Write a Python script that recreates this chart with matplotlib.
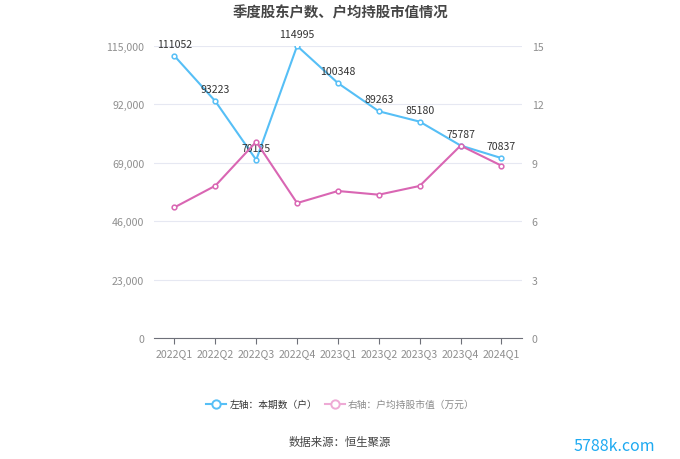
import matplotlib.pyplot as plt
import numpy as np

plt.rcParams['font.family'] = ['Noto Sans CJK SC', 'DejaVu Sans']

#------------------Data------------------
quarters = ['2022Q1', '2022Q2', '2022Q3', '2022Q4', '2023Q1', '2023Q2', '2023Q3', '2023Q4', '2024Q1']
holders = [111052, 93223, 70125, 114995, 100348, 89263, 85180, 75787, 70837]
avg_value = [6.71, 7.82, 10.08, 6.93, 7.55, 7.36, 7.81, 9.88, 8.85]
left_ticks = [0, 23000, 46000, 69000, 92000, 115000]
right_ticks = [0, 3, 6, 9, 12, 15]

blue = '#56bff6'
pink = '#d966b3'
label_gray = '#8f8f8f'

#------------------Figure------------------
fig = plt.figure(figsize=(6.8, 4.6), dpi=100)
ax = fig.add_axes([0.2265, 0.263, 0.541, 0.635])
ax2 = ax.twinx()

x = np.arange(len(quarters))

ax.plot(x, holders, color=blue, lw=1.5, marker='o', ms=3.4, mfc='white', mec=blue, mew=1.1, zorder=3)
ax2.plot(x, avg_value, color=pink, lw=1.5, marker='o', ms=3.4, mfc='white', mec=pink, mew=1.1, zorder=3)

for xi, v in zip(x, holders):
    ax.annotate(str(v), (xi, v), xytext=(0, 5), textcoords='offset points',
                ha='center', va='bottom', fontsize=7.6, color='#333333', zorder=5)

ax.set_xlim(-0.5, len(quarters) - 0.5)
ax.set_ylim(0, 115000)
ax2.set_ylim(0, 15)
ax.set_yticks(left_ticks)
ax.set_yticklabels([f'{t:,}' for t in left_ticks])
ax2.set_yticks(right_ticks)
ax.set_xticks(x)
ax.set_xticklabels(quarters)

ax.grid(axis='y', color='#e6e8f2', lw=0.8)
ax.set_axisbelow(True)
for a in (ax, ax2):
    for s in ['top', 'left', 'right', 'bottom']:
        a.spines[s].set_visible(False)
ax.spines['bottom'].set_visible(True)
ax.spines['bottom'].set_color('#6e7079')

ax.tick_params(axis='y', length=0, labelsize=7.6, labelcolor=label_gray, pad=7)
ax2.tick_params(axis='y', length=0, labelsize=7.6, labelcolor=label_gray, pad=7)
ax.tick_params(axis='x', length=4, color='#6e7079', labelsize=7.6, labelcolor=label_gray, pad=3)

#------------------Title, legend, source------------------
fig.text(0.5, 0.972, '季度股东户数、户均持股市值情况', ha='center', va='center',
         fontsize=10.4, fontweight='bold', color='#464646')

ly = 1 - 405 / 460
light_pink = '#eeaad5'
fig.add_artist(plt.Line2D([206 / 680, 226 / 680], [ly, ly], color=blue, lw=1.5, transform=fig.transFigure))
fig.add_artist(plt.Line2D([216 / 680], [ly], color=blue, marker='o', ms=6, mfc='white',
                          mec=blue, mew=1.4, transform=fig.transFigure))
fig.text(230 / 680, ly, '左轴：本期数（户）', ha='left', va='center', fontsize=7, color='#333333')
fig.add_artist(plt.Line2D([325 / 680, 345 / 680], [ly, ly], color=light_pink, lw=1.5, transform=fig.transFigure))
fig.add_artist(plt.Line2D([335 / 680], [ly], color=light_pink, marker='o', ms=6, mfc='white',
                          mec=light_pink, mew=1.4, transform=fig.transFigure))
fig.text(348 / 680, ly, '右轴：户均持股市值（万元）', ha='left', va='center', fontsize=7, color='#8a8a8a')

fig.text(0.5, 1 - 443 / 460, '数据来源：恒生聚源', ha='center', va='center', fontsize=8.2, color='#444444')
fig.text(655 / 680, 1 - 447 / 460, '5788k.com', ha='right', va='center', fontsize=11.5, color='#1eaaf1')

fig.savefig('out.png', dpi=100)
